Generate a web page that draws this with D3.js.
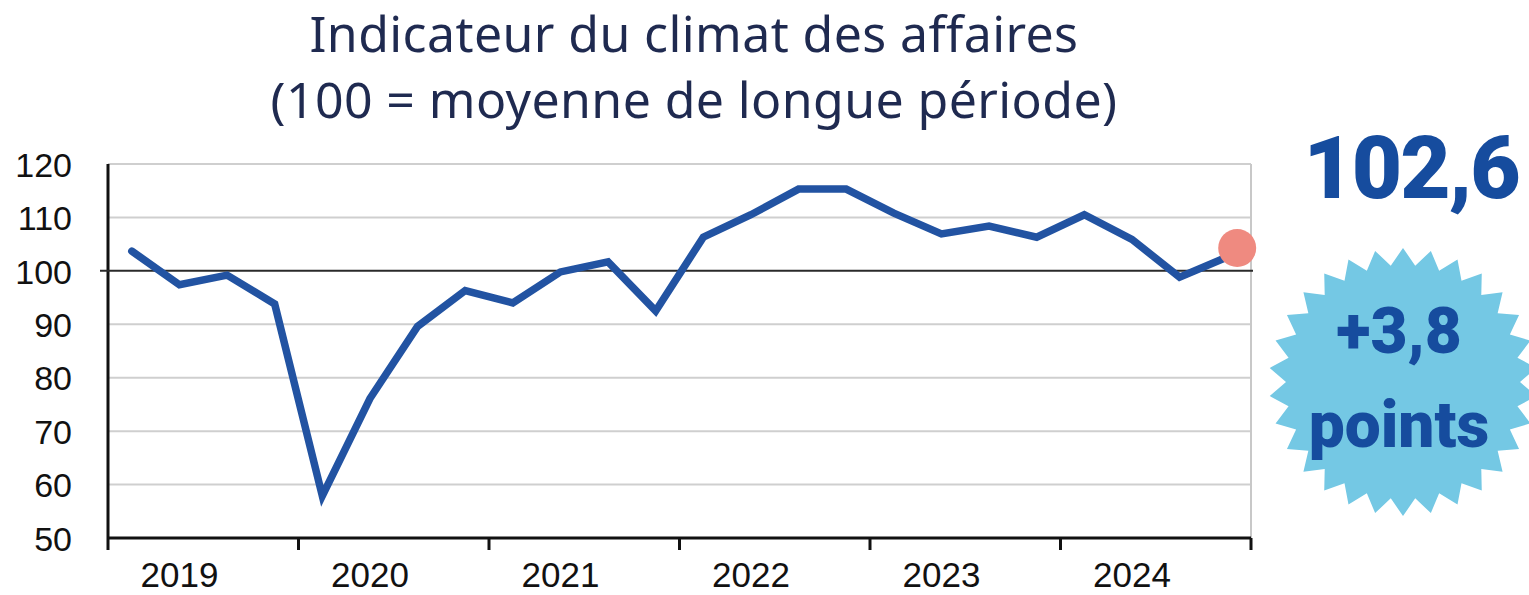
<!DOCTYPE html>
<html>
<head>
<meta charset="utf-8">
<script src="https://cdn.jsdelivr.net/npm/d3@7"></script>
<style>
  body { margin: 0; background: #fff; }
  svg { display: block; }
</style>
</head>
<body>
<svg class="graph" width="1529" height="595"></svg>
<script>
// quarterly values, 2019 Q1 -> 2024 Q4
var years = ['2019', '2020', '2021', '2022', '2023', '2024'];
var quarters = ['T1', 'T2', 'T3', 'T4'];
var climat = [103.7, 97.4, 99.2, 93.8,
              57.9, 76.1, 89.6, 96.3,
              94.0, 99.8, 101.7, 92.5,
              106.3, 110.5, 115.3, 115.3,
              110.8, 106.9, 108.4, 106.3,
              110.5, 105.9, 98.8, 102.6];
var yTicks = [50, 60, 70, 80, 90, 100, 110, 120];
var titleLines = ['Indicateur du climat des affaires', '(100 = moyenne de longue période)'];
var lastValue = '102,6';
var change = ['+3,8', 'points'];

var periods = [];
years.forEach(function(yr){
    quarters.forEach(function(q){ periods.push(yr + q); });
});
var data = climat.map(function(v, i){ return { period: periods[i], value: v }; });

var svg = d3.select('.graph');
var plotLeft = 108, plotRight = 1251, plotTop = 164, plotBottom = 538;

var x = d3.scaleBand().domain(periods).range([plotLeft, plotRight]);
var xYear = d3.scaleBand().domain(years).range([plotLeft, plotRight]);
var y = d3.scaleLinear().domain([50, 120]).range([plotBottom, plotTop]);

// title
svg.append('g').selectAll('text')
    .data(titleLines)
    .enter()
    .append('text')
    .attr('x', 694)
    .attr('y', function(d, i){ return 52 + i * 66; })
    .attr('text-anchor', 'middle')
    .style('font-family', '"Noto Sans", sans-serif')
    .style('font-size', '50px')
    .style('letter-spacing', '0.4px')
    .style('fill', '#1f2a50')
    .text(function(d){ return d; });

// grid
svg.append('g').selectAll('line')
    .data(yTicks.filter(function(t){ return t !== 50 && t !== 100; }))
    .enter()
    .append('line')
    .attr('x1', plotLeft)
    .attr('x2', plotRight)
    .attr('y1', function(d){ return y(d); })
    .attr('y2', function(d){ return y(d); })
    .style('stroke', '#cfcfcf')
    .style('stroke-width', 2);

svg.append('line')
    .attr('x1', plotRight).attr('x2', plotRight)
    .attr('y1', plotTop).attr('y2', plotBottom)
    .style('stroke', '#c8c8c8')
    .style('stroke-width', 2);

// y axis
var yAxis = svg.append('g')
    .attr('transform', 'translate(' + plotLeft + ',0)')
    .call(d3.axisLeft(y).tickValues(yTicks).tickSize(0).tickPadding(36));
yAxis.select('.domain').remove();
yAxis.selectAll('text')
    .style('font-family', '"Liberation Sans", Arial, sans-serif')
    .style('font-size', '34px')
    .style('fill', '#111')
    .attr('dy', '0.36em');

svg.append('line')
    .attr('x1', plotLeft).attr('x2', plotLeft)
    .attr('y1', plotTop).attr('y2', plotBottom + 12)
    .style('stroke', '#111')
    .style('stroke-width', 3);

// x axis
var xAxis = svg.append('g')
    .attr('transform', 'translate(0,' + plotBottom + ')')
    .call(d3.axisBottom(xYear).tickSize(0).tickPadding(0));
xAxis.select('.domain').remove();
xAxis.selectAll('text')
    .attr('x', function(d){ return x(d + 'T2') + x.bandwidth() / 2 - xYear(d) - xYear.bandwidth() / 2; })
    .attr('y', 49)
    .attr('dy', 0)
    .style('font-family', '"Liberation Sans", Arial, sans-serif')
    .style('font-size', '35px')
    .style('fill', '#111');

svg.append('line')
    .attr('x1', plotLeft).attr('x2', plotRight)
    .attr('y1', plotBottom).attr('y2', plotBottom)
    .style('stroke', '#111')
    .style('stroke-width', 3);

svg.append('g').selectAll('line')
    .data(years.slice(1).concat(['end']))
    .enter()
    .append('line')
    .attr('x1', function(d){ return d === 'end' ? plotRight : xYear(d); })
    .attr('x2', function(d){ return d === 'end' ? plotRight : xYear(d); })
    .attr('y1', plotBottom)
    .attr('y2', plotBottom + 12)
    .style('stroke', '#111')
    .style('stroke-width', 3);

// reference line at 100
svg.append('line')
    .attr('x1', plotLeft - 8).attr('x2', plotRight + 2)
    .attr('y1', y(100)).attr('y2', y(100))
    .style('stroke', '#2a2a2a')
    .style('stroke-width', 2);

// series
var line = d3.line()
    .x(function(d){ return x(d.period) + x.bandwidth() / 2; })
    .y(function(d){ return y(d.value); });

svg.append('path')
    .datum(data)
    .attr('d', line)
    .style('fill', 'none')
    .style('stroke', '#2253a2')
    .style('stroke-width', 7.5)
    .style('stroke-linejoin', 'miter')
    .style('stroke-linecap', 'round');

var last = data[data.length - 1];
svg.append('circle')
    .attr('cx', x(last.period) + x.bandwidth() / 2 + 10)
    .attr('cy', y(last.value) - 9)
    .attr('r', 19)
    .style('fill', '#ef8a80');

// annotation
svg.append('text')
    .attr('x', 1411)
    .attr('y', 198)
    .attr('text-anchor', 'middle')
    .style('font-family', 'Roboto, sans-serif')
    .style('font-weight', 900)
    .style('font-size', '87px')
    .style('letter-spacing', '-2px')
    .style('fill', '#164c9e')
    .text(lastValue);

var cx = 1403, cy = 382, rOut = 134, rIn = 117, nPts = 30;
var star = d3.range(nPts * 2).map(function(i){
    var a = i * Math.PI / nPts;
    var r = i % 2 === 0 ? rOut : rIn;
    return [cx + r * Math.sin(a), cy - r * Math.cos(a)];
});
svg.append('path')
    .attr('d', 'M' + star.join('L') + 'Z')
    .style('fill', '#74c8e4');

svg.append('g').selectAll('text')
    .data(change)
    .enter()
    .append('text')
    .attr('x', 1399)
    .attr('y', function(d, i){ return 353 + i * 94; })
    .attr('text-anchor', 'middle')
    .style('font-family', 'Roboto, sans-serif')
    .style('font-weight', 900)
    .style('font-size', '64px')
    .style('fill', '#164c9e')
    .text(function(d){ return d; });
</script>
</body>
</html>
